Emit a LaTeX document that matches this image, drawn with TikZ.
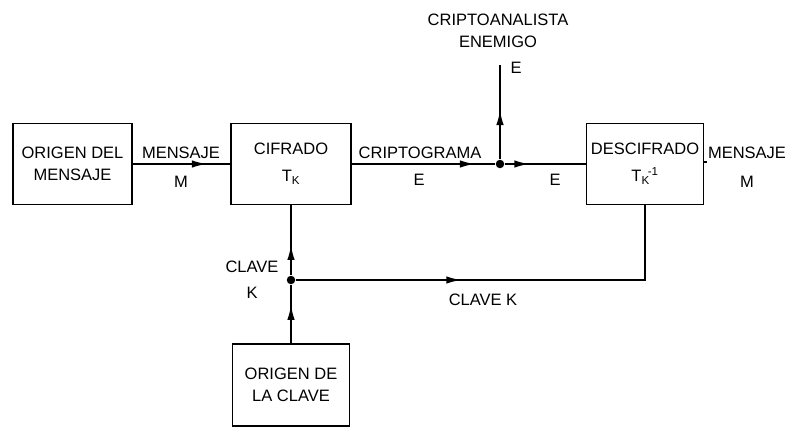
\documentclass[tikz,border=0pt]{standalone}
\usepackage{fontspec}
\setmainfont{Liberation Sans}
\usetikzlibrary{arrows.meta,decorations.markings}

\begin{document}
\begin{tikzpicture}[x=1pt, y=-1pt, line width=1.8pt,
    box/.style={draw, rectangle, minimum height=81pt, align=center, font=\fontsize{16.5}{22}\selectfont},
    lbl/.style={font=\fontsize{16.5}{20}\selectfont, inner sep=0pt, align=center},
    junct/.style={circle, fill, inner sep=0pt, minimum size=8.5pt},
    midarrow/.style={postaction={decorate}, decoration={markings, mark=at position #1 with {\arrow{Latex[length=15pt,width=7.5pt]}}}}]
    \useasboundingbox (0,0) rectangle (787,428);
    % Blocks
    \node[box, minimum width=119pt] (src) at (72.5,164) {ORIGEN DEL\\MENSAJE};
    \node[box, minimum width=120pt] (enc) at (291,164) {CIFRADO\\[5pt]T\textsubscript{K}};
    \node[box, minimum width=117pt] (dec) at (645,164) {DESCIFRADO\\[5pt]T\textsubscript{K}\kern-2pt\textsuperscript{-1}};
    \node[box, minimum width=117pt, minimum height=82pt] (keysrc) at (291,385) {ORIGEN DE\\LA CLAVE};
    % Junctions and free ends
    \node[junct] (jE) at (500,164) {};
    \node[junct] (jK) at (291,280) {};
    \coordinate (spy) at (500,65);
    \coordinate (out) at (707,162);
    % Message path
    \draw[midarrow=0.76] (src) -- (enc);
    \draw[midarrow=0.86] (enc) -- (jE);
    \draw[midarrow=0.3] (jE) -- (dec);
    \draw[midarrow=0.52] (jE) -- (spy);
    \draw (dec.east |- out) -- (out);
    % Key path
    \draw[midarrow=0.66] (keysrc) -- (jK);
    \draw[midarrow=0.43] (jK) -- (enc);
    \draw[midarrow=0.39] (jK) -| (dec);
    % Labels
    \node[lbl] (msgA) at (181,153) {MENSAJE};
    \node[lbl] (msgAm) at (181,182) {M};
    \node[lbl] (crypto) at (420,153) {CRIPTOGRAMA};
    \node[lbl] (cryptoE) at (419,180) {E};
    \node[lbl] (cryptoE2) at (555,180) {E};
    \node[lbl] (enemy) at (498,31) {CRIPTOANALISTA\\[2pt]ENEMIGO};
    \node[lbl] (enemyE) at (516,68) {E};
    \node[lbl] (msgB) at (747,153) {MENSAJE};
    \node[lbl] (msgBm) at (747,182) {M};
    \node[lbl] (keyA) at (252,267) {CLAVE};
    \node[lbl] (keyAk) at (252,293) {K};
    \node[lbl] (keyB) at (483,300) {CLAVE K};
\end{tikzpicture}
\end{document}
